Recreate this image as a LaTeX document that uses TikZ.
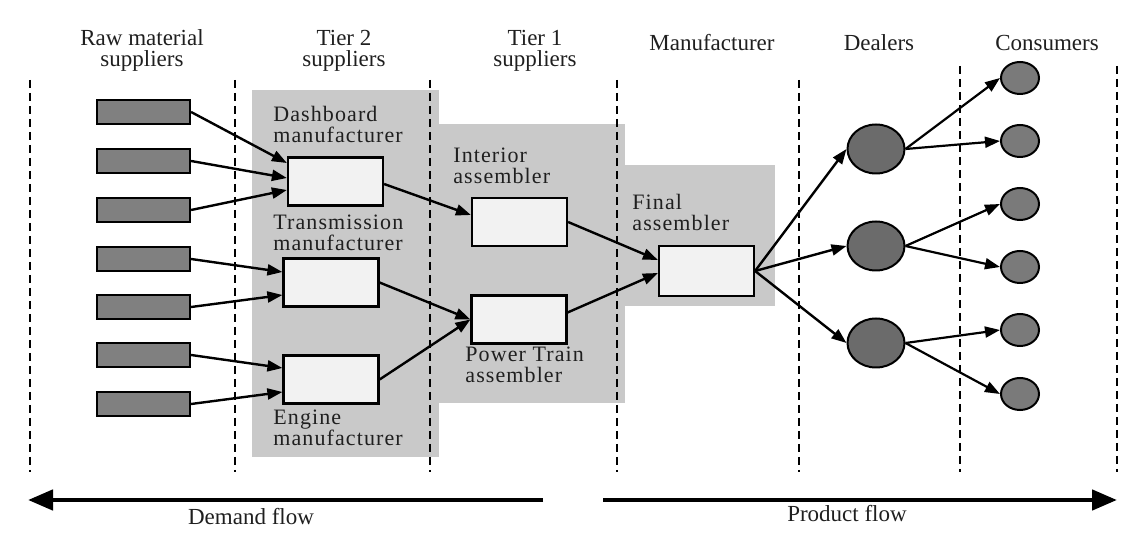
\documentclass[tikz,border=0pt]{standalone}
\usepackage{fontspec}
\setmainfont{Liberation Serif}
\newfontfamily\spacedfont[LetterSpace=5]{Liberation Serif}
\usetikzlibrary{arrows.meta,shapes.geometric,calc}

\definecolor{zonegray}{gray}{0.79}
\definecolor{rawgray}{gray}{0.50}
\definecolor{boxfill}{gray}{0.95}
\definecolor{dealergray}{gray}{0.42}
\definecolor{consumergray}{gray}{0.48}
\definecolor{inkgray}{gray}{0.12}

\begin{document}
\begin{tikzpicture}[x=0.5pt,y=-0.5pt,
  heading/.style={font=\fontsize{11.5}{10.75}\selectfont, text=inkgray, align=center, inner sep=0pt, anchor=base},
  zonelabel/.style={font=\spacedfont\fontsize{11}{10.75}\selectfont, text=inkgray, align=left, inner sep=0pt, anchor=base west},
  divider/.style={line width=1.3pt, dash pattern=on 4pt off 2.5pt},
  thindivider/.style={line width=0.7pt, dash pattern=on 4pt off 2.5pt},
  rawbox/.style={draw, line width=1.1pt, fill=rawgray, minimum width=46.5pt, minimum height=12pt, inner sep=0pt},
  firmbox/.style={draw, line width=1.1pt, fill=boxfill, minimum width=47.5pt, minimum height=24pt, inner sep=0pt},
  dealer/.style={ellipse, draw, line width=1pt, fill=dealergray, minimum width=28.5pt, minimum height=24.5pt, inner sep=0pt},
  consumer/.style={ellipse, draw, line width=1pt, fill=consumergray, minimum width=19pt, minimum height=16pt, inner sep=0pt},
  link/.style={line width=1.2pt, -{Triangle[length=7.5pt,width=5.5pt]}},
  fanlink/.style={line width=1.1pt, -{Triangle[length=7.5pt,width=5.5pt]}},
  flow/.style={line width=2.3pt, -{Triangle[length=12.5pt,width=10pt]}}
]
\useasboundingbox (0,0) rectangle (1131,550);

% shaded tiers
\fill[zonegray] (252,90) rectangle (439,457);
\fill[zonegray] (439,124) rectangle (625,403);
\fill[zonegray] (625,165) rectangle (775,306);

% column dividers
\foreach \x/\t in {30/80,235/80,430/80,617/80,799/80,1117/66}
  \draw[divider] (\x,\t) -- (\x,472);
\draw[thindivider] (960,66) -- (960,472);

% column headings (two-line nodes sit on the baseline of their last line)
\node[heading] (hraw)  at (142,67) {Raw material\\suppliers};
\node[heading] (htwo)  at (344,67) {Tier 2\\suppliers};
\node[heading] (hone)  at (535,67) {Tier 1\\suppliers};
\node[heading] (hman)  at (712,51) {Manufacturer};
\node[heading] (hdeal) at (879,51) {Dealers};
\node[heading] (hcons) at (1047,51) {Consumers};

% raw material suppliers
\foreach \i/\y in {1/112,2/161,3/210,4/259,5/307,6/355,7/404}
  \node[rawbox] (r\i) at (143.5,\y) {};

% tier 2 suppliers
\node[firmbox] (dash)   at (335.5,181.5) {};
\node[firmbox] (trans)  at (331,282.5) {};
\node[firmbox] (engine) at (331,379.5) {};
\node[zonelabel] (ldash)   at (273,143) {Dashboard\\manufacturer};
\node[zonelabel] (ltrans)  at (273,251) {Transmission\\manufacturer};
\node[zonelabel] (lengine) at (273,446) {Engine\\manufacturer};

% tier 1 suppliers
\node[firmbox] (inter) at (519.5,222) {};
\node[firmbox] (power) at (519,319.5) {};
\node[zonelabel] (linter) at (453,184) {Interior\\assembler};
\node[zonelabel] (lpower) at (465,383) {Power Train\\assembler};

% manufacturer
\node[firmbox, minimum height=25pt] (final) at (706.5,271) {};
\node[zonelabel] (lfinal) at (632,231) {Final\\assembler};

% dealers and consumers
\foreach \i/\y in {1/149,2/246,3/343}
  \node[dealer] (d\i) at (876,\y) {};
\foreach \i/\y in {1/78,2/141,3/204,4/267,5/330,6/394}
  \node[consumer] (c\i) at (1020,\y) {};

% raw material to tier 2
\draw[link] (r1.east) -- ($(dash.west)+(0,-18.5)$);
\draw[link] (r2.east) -- ($(dash.west)+(0,-3.5)$);
\draw[link] (r3.east) -- ($(dash.west)+(0,8.5)$);
\draw[link] (r4.east) -- ($(trans.west)+(0,-10.5)$);
\draw[link] (r5.east) -- ($(trans.west)+(0,12.5)$);
\draw[link] (r6.east) -- ($(engine.west)+(0,-11.5)$);
\draw[link] (r7.east) -- ($(engine.west)+(0,12.5)$);

% tier 2 to tier 1
\draw[link] ($(dash.east)+(0,2.5)$) -- ($(inter.west)+(0,-7)$);
\draw[link] (trans.east) -- (power.west);
\draw[link] (engine.east) -- (power.west);

% tier 1 to final assembler
\draw[link] (inter.east) -- ($(final.west)+(0,-11)$);
\draw[link] ($(power.east)+(0,-7)$) -- ($(final.west)+(0,2)$);

% final assembler to dealers
\foreach \i in {1,2,3}
  \draw[link] (final.east) -- (d\i.west);

% dealers to consumers
\draw[fanlink] (d1.east) -- (c1.west);
\draw[fanlink] (d1.east) -- (c2.west);
\draw[fanlink] (d2.east) -- (c3.west);
\draw[fanlink] (d2.east) -- (c4.west);
\draw[fanlink] (d3.east) -- (c5.west);
\draw[fanlink] (d3.east) -- (c6.west);

% demand and product flow
\coordinate (demandR) at (543,500);
\coordinate (demandL) at (28,500);
\coordinate (productL) at (603,500);
\coordinate (productR) at (1117,500);
\draw[flow] (demandR) -- (demandL);
\draw[flow] (productL) -- (productR);
\node[heading] (ldemand)  at (251,525) {Demand flow};
\node[heading] (lproduct) at (847,522) {Product flow};
\end{tikzpicture}
\end{document}
